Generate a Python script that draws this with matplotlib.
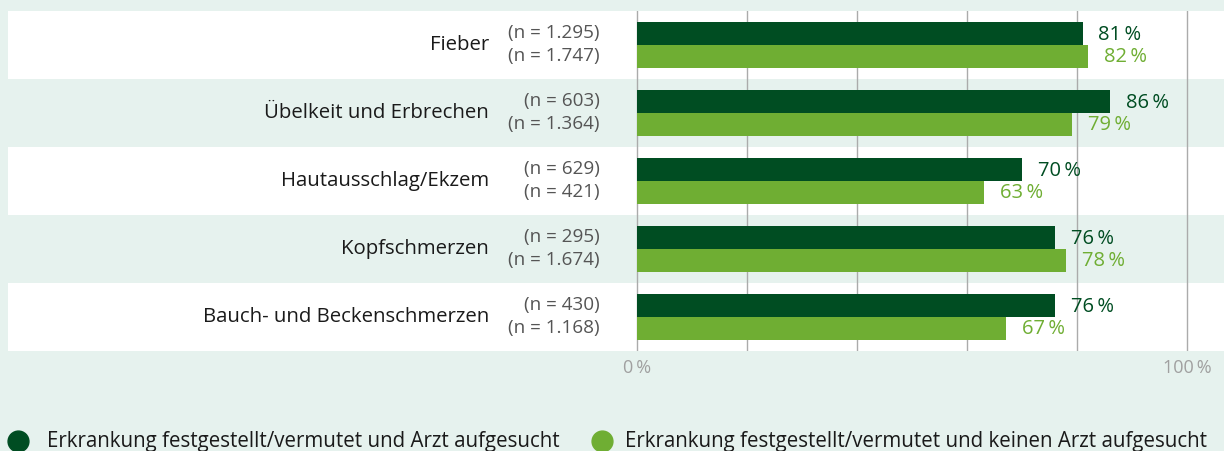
import matplotlib.pyplot as plt
from matplotlib.lines import Line2D

categories = ["Fieber", "Übelkeit und Erbrechen", "Hautausschlag/Ekzem",
              "Kopfschmerzen", "Bauch- und Beckenschmerzen"]
arzt = [81, 86, 70, 76, 76]
kein_arzt = [82, 79, 63, 78, 67]
n_arzt = ["1.295", "603", "629", "295", "430"]
n_kein = ["1.747", "1.364", "421", "1.674", "1.168"]
series_names = ["Erkrankung festgestellt/vermutet und Arzt aufgesucht",
                "Erkrankung festgestellt/vermutet und keinen Arzt aufgesucht"]

DARK = "#004d22"
LIGHT = "#6fae33"
MINT = "#e6f2ee"
W, H = 1224, 451

plt.rcParams['font.family'] = ['Open Sans', 'DejaVu Sans']

fig = plt.figure(figsize=(W / 100, H / 100), dpi=100, facecolor=MINT)
# axes from x=8px to right edge, y from 11px to 351px
ax = fig.add_axes([8 / W, (H - 351) / H, (W - 8) / W, 340 / H])
ax.set_facecolor(MINT)
px = 100 / 550  # data units per pixel
ax.set_xlim((8 - 637) * px, (W - 637) * px)
ax.set_ylim(len(categories) - 0.5, -0.5)
for s in ax.spines.values():
    s.set_visible(False)
ax.set_xticks([])
ax.set_yticks([])

for i in range(len(categories)):
    ax.axhspan(i - 0.5, i + 0.5, color="white" if i % 2 == 0 else MINT, zorder=0, lw=0)

for g in [0, 20, 40, 60, 80, 100]:
    ax.axvline(g, color="#ababab", lw=1, zorder=1)

h = 0.335
y = list(range(len(categories)))
ax.barh([v - 0.17 for v in y], arzt, height=h, color=DARK, zorder=2)
ax.barh([v + 0.165 for v in y], kein_arzt, height=h, color=LIGHT, zorder=2)

for i in y:
    ax.text(arzt[i] + 16 * px, i - 0.14, f"{arzt[i]}\u2009%", color=DARK, fontsize=14.5,
            va="center", ha="left")
    ax.text(kein_arzt[i] + 16 * px, i + 0.18, f"{kein_arzt[i]}\u2009%", color=LIGHT,
            fontsize=14.5, va="center", ha="left")
    ax.text((489 - 637) * px, i, categories[i], color="#1a1a1a", fontsize=14.7,
            va="center", ha="right")
    ax.text((600 - 637) * px, i - 0.17, f"(n = {n_arzt[i]})", color="#555555",
            fontsize=13.6, va="center", ha="right")
    ax.text((600 - 637) * px, i + 0.165, f"(n = {n_kein[i]})", color="#555555",
            fontsize=13.6, va="center", ha="right")

for t, lab in [(0, "0\u2009%"), (100, "100\u2009%")]:
    ax.text(t, 4.5 + 17 / 68, lab, color="#a0a0a0", fontsize=13, ha="center", va="center")

# legend
for xc, xt, col, name in [(18, 47, DARK, series_names[0]), (602, 625, LIGHT, series_names[1])]:
    fig.add_artist(Line2D([xc / W], [1 - 441 / H], marker="o", markersize=15,
                          color=col, transform=fig.transFigure, lw=0))
    fig.text(xt / W, 1 - 442 / H, name, color="#1a1a1a", fontsize=14.8, va="center", ha="left")

fig.savefig("out.png", dpi=100, facecolor=MINT)
